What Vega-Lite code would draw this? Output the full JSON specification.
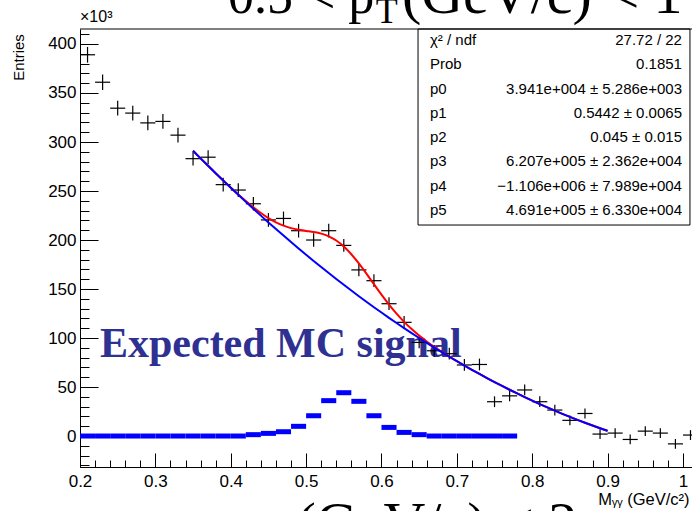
{
  "$schema": "https://vega.github.io/schema/vega-lite/v6.json",
  "width": 612,
  "height": 438,
  "autosize": "none",
  "padding": {"left": 80, "top": 29, "right": 0, "bottom": 44},
  "background": "white",
  "config": {
    "view": {"stroke": null},
    "font": "Liberation Sans",
    "axis": {"grid": false, "labelOverlap": false, "labelFlush": false, "domainColor": "#000", "domainWidth": 1, "tickColor": "#000", "tickWidth": 1, "labelColor": "#000", "labelFont": "Liberation Sans", "labelFontSize": 17, "titleFont": "Liberation Sans", "titleFontWeight": "normal", "titleColor": "#000"}
  },
  "datasets": {
    "hist": [
      {"x": 0.21, "lo": 0.20, "hi": 0.22, "y": 389, "elo": 381, "ehi": 397},
      {"x": 0.23, "lo": 0.22, "hi": 0.24, "y": 361, "elo": 353, "ehi": 369},
      {"x": 0.25, "lo": 0.24, "hi": 0.26, "y": 334.5, "elo": 327, "ehi": 342},
      {"x": 0.27, "lo": 0.26, "hi": 0.28, "y": 329.5, "elo": 322, "ehi": 337},
      {"x": 0.29, "lo": 0.28, "hi": 0.30, "y": 319.5, "elo": 312, "ehi": 327},
      {"x": 0.31, "lo": 0.30, "hi": 0.32, "y": 321, "elo": 313.5, "ehi": 328.5},
      {"x": 0.33, "lo": 0.32, "hi": 0.34, "y": 307, "elo": 299.5, "ehi": 314.5},
      {"x": 0.35, "lo": 0.34, "hi": 0.36, "y": 283, "elo": 276, "ehi": 290},
      {"x": 0.37, "lo": 0.36, "hi": 0.38, "y": 284.5, "elo": 277.5, "ehi": 291.5},
      {"x": 0.39, "lo": 0.38, "hi": 0.40, "y": 256.5, "elo": 249.5, "ehi": 263.5},
      {"x": 0.41, "lo": 0.40, "hi": 0.42, "y": 251, "elo": 244, "ehi": 258},
      {"x": 0.43, "lo": 0.42, "hi": 0.44, "y": 237, "elo": 230, "ehi": 244},
      {"x": 0.45, "lo": 0.44, "hi": 0.46, "y": 220.5, "elo": 213.5, "ehi": 227.5},
      {"x": 0.47, "lo": 0.46, "hi": 0.48, "y": 222, "elo": 215, "ehi": 229},
      {"x": 0.49, "lo": 0.48, "hi": 0.50, "y": 209.5, "elo": 202.5, "ehi": 216.5},
      {"x": 0.51, "lo": 0.50, "hi": 0.52, "y": 200, "elo": 193, "ehi": 207},
      {"x": 0.53, "lo": 0.52, "hi": 0.54, "y": 209.5, "elo": 202.5, "ehi": 216.5},
      {"x": 0.55, "lo": 0.54, "hi": 0.56, "y": 194.5, "elo": 188, "ehi": 201},
      {"x": 0.57, "lo": 0.56, "hi": 0.58, "y": 169.5, "elo": 163, "ehi": 176},
      {"x": 0.59, "lo": 0.58, "hi": 0.60, "y": 158.5, "elo": 152, "ehi": 165},
      {"x": 0.61, "lo": 0.60, "hi": 0.62, "y": 135, "elo": 128.5, "ehi": 141.5},
      {"x": 0.63, "lo": 0.62, "hi": 0.64, "y": 116, "elo": 109.5, "ehi": 122.5},
      {"x": 0.65, "lo": 0.64, "hi": 0.66, "y": 95.5, "elo": 89.5, "ehi": 101.5},
      {"x": 0.67, "lo": 0.66, "hi": 0.68, "y": 87, "elo": 81, "ehi": 93},
      {"x": 0.69, "lo": 0.68, "hi": 0.70, "y": 84, "elo": 78, "ehi": 90},
      {"x": 0.71, "lo": 0.70, "hi": 0.72, "y": 72.5, "elo": 66.5, "ehi": 78.5},
      {"x": 0.73, "lo": 0.72, "hi": 0.74, "y": 73, "elo": 67, "ehi": 79},
      {"x": 0.75, "lo": 0.74, "hi": 0.76, "y": 35, "elo": 29.5, "ehi": 40.5},
      {"x": 0.77, "lo": 0.76, "hi": 0.78, "y": 41, "elo": 35.5, "ehi": 46.5},
      {"x": 0.79, "lo": 0.78, "hi": 0.80, "y": 47, "elo": 41.5, "ehi": 52.5},
      {"x": 0.81, "lo": 0.80, "hi": 0.82, "y": 35, "elo": 29.5, "ehi": 40.5},
      {"x": 0.83, "lo": 0.82, "hi": 0.84, "y": 26.5, "elo": 21, "ehi": 32},
      {"x": 0.85, "lo": 0.84, "hi": 0.86, "y": 16, "elo": 11, "ehi": 21},
      {"x": 0.87, "lo": 0.86, "hi": 0.88, "y": 23, "elo": 18, "ehi": 28},
      {"x": 0.89, "lo": 0.88, "hi": 0.90, "y": 2, "elo": -3, "ehi": 7},
      {"x": 0.91, "lo": 0.90, "hi": 0.92, "y": 3, "elo": -2, "ehi": 8},
      {"x": 0.93, "lo": 0.92, "hi": 0.94, "y": -3.5, "elo": -8.5, "ehi": 1.5},
      {"x": 0.95, "lo": 0.94, "hi": 0.96, "y": 5, "elo": 0, "ehi": 10},
      {"x": 0.97, "lo": 0.96, "hi": 0.98, "y": 3, "elo": -2, "ehi": 8},
      {"x": 0.99, "lo": 0.98, "hi": 1.00, "y": -8, "elo": -13, "ehi": -3},
      {"x": 1.01, "lo": 1.00, "hi": 1.02, "y": 1, "elo": -4, "ehi": 6}
    ],
    "signal": [
      {"lo": 0.20, "hi": 0.22, "v": 0}, {"lo": 0.22, "hi": 0.24, "v": 0}, {"lo": 0.24, "hi": 0.26, "v": 0},
      {"lo": 0.26, "hi": 0.28, "v": 0}, {"lo": 0.28, "hi": 0.30, "v": 0}, {"lo": 0.30, "hi": 0.32, "v": 0},
      {"lo": 0.32, "hi": 0.34, "v": 0}, {"lo": 0.34, "hi": 0.36, "v": 0}, {"lo": 0.36, "hi": 0.38, "v": 0},
      {"lo": 0.38, "hi": 0.40, "v": 0}, {"lo": 0.40, "hi": 0.42, "v": 0}, {"lo": 0.42, "hi": 0.44, "v": 1.4},
      {"lo": 0.44, "hi": 0.46, "v": 2.7}, {"lo": 0.46, "hi": 0.48, "v": 4.4}, {"lo": 0.48, "hi": 0.50, "v": 9.9},
      {"lo": 0.50, "hi": 0.52, "v": 20.7}, {"lo": 0.52, "hi": 0.54, "v": 36.1}, {"lo": 0.54, "hi": 0.56, "v": 44.2},
      {"lo": 0.56, "hi": 0.58, "v": 35.4}, {"lo": 0.58, "hi": 0.60, "v": 20.7}, {"lo": 0.60, "hi": 0.62, "v": 8.8},
      {"lo": 0.62, "hi": 0.64, "v": 3.7}, {"lo": 0.64, "hi": 0.66, "v": 1.4}, {"lo": 0.66, "hi": 0.68, "v": 0},
      {"lo": 0.68, "hi": 0.70, "v": 0}, {"lo": 0.70, "hi": 0.72, "v": 0}, {"lo": 0.72, "hi": 0.74, "v": 0},
      {"lo": 0.74, "hi": 0.76, "v": 0}, {"lo": 0.76, "hi": 0.78, "v": 0}
    ],
    "fit": [
      {"x": 0.35, "total": 291.07, "bkg": 291.07}, {"x": 0.36, "total": 283.34, "bkg": 283.34},
      {"x": 0.37, "total": 275.72, "bkg": 275.70}, {"x": 0.38, "total": 268.21, "bkg": 268.16},
      {"x": 0.39, "total": 260.82, "bkg": 260.71}, {"x": 0.40, "total": 253.59, "bkg": 253.36},
      {"x": 0.41, "total": 246.56, "bkg": 246.10}, {"x": 0.42, "total": 239.80, "bkg": 238.93},
      {"x": 0.43, "total": 233.43, "bkg": 231.86}, {"x": 0.44, "total": 227.58, "bkg": 224.88},
      {"x": 0.45, "total": 222.40, "bkg": 217.99}, {"x": 0.46, "total": 218.05, "bkg": 211.20},
      {"x": 0.47, "total": 214.62, "bkg": 204.50}, {"x": 0.48, "total": 212.15, "bkg": 197.90},
      {"x": 0.49, "total": 210.47, "bkg": 191.39}, {"x": 0.50, "total": 209.30, "bkg": 184.98},
      {"x": 0.51, "total": 208.18, "bkg": 178.65}, {"x": 0.52, "total": 206.53, "bkg": 172.43},
      {"x": 0.53, "total": 203.79, "bkg": 166.29}, {"x": 0.54, "total": 199.49, "bkg": 160.25},
      {"x": 0.55, "total": 193.39, "bkg": 154.30}, {"x": 0.56, "total": 185.50, "bkg": 148.45},
      {"x": 0.57, "total": 176.13, "bkg": 142.69}, {"x": 0.58, "total": 165.74, "bkg": 137.03},
      {"x": 0.59, "total": 154.93, "bkg": 131.45}, {"x": 0.60, "total": 144.25, "bkg": 125.98},
      {"x": 0.61, "total": 134.12, "bkg": 120.59}, {"x": 0.62, "total": 124.84, "bkg": 115.30},
      {"x": 0.63, "total": 116.51, "bkg": 110.11}, {"x": 0.64, "total": 109.09, "bkg": 105.00},
      {"x": 0.65, "total": 102.48, "bkg": 100.00}, {"x": 0.66, "total": 96.52, "bkg": 95.08},
      {"x": 0.67, "total": 91.05, "bkg": 90.26}, {"x": 0.68, "total": 85.95, "bkg": 85.53},
      {"x": 0.69, "total": 81.11, "bkg": 80.90}, {"x": 0.70, "total": 76.46, "bkg": 76.36},
      {"x": 0.71, "total": 71.95, "bkg": 71.91}, {"x": 0.72, "total": 67.58, "bkg": 67.56},
      {"x": 0.73, "total": 63.30, "bkg": 63.30}, {"x": 0.74, "total": 59.14, "bkg": 59.14},
      {"x": 0.75, "total": 55.07, "bkg": 55.07}, {"x": 0.76, "total": 51.09, "bkg": 51.09},
      {"x": 0.77, "total": 47.21, "bkg": 47.21}, {"x": 0.78, "total": 43.42, "bkg": 43.42},
      {"x": 0.79, "total": 39.73, "bkg": 39.73}, {"x": 0.80, "total": 36.12, "bkg": 36.12},
      {"x": 0.81, "total": 32.62, "bkg": 32.62}, {"x": 0.82, "total": 29.20, "bkg": 29.20},
      {"x": 0.83, "total": 25.88, "bkg": 25.88}, {"x": 0.84, "total": 22.66, "bkg": 22.66},
      {"x": 0.85, "total": 19.53, "bkg": 19.53}, {"x": 0.86, "total": 16.49, "bkg": 16.49},
      {"x": 0.87, "total": 13.54, "bkg": 13.54}, {"x": 0.88, "total": 10.69, "bkg": 10.69},
      {"x": 0.89, "total": 7.93, "bkg": 7.93}, {"x": 0.90, "total": 5.27, "bkg": 5.27}
    ],
    "stats": [
      {"k": "χ² / ndf", "v": "27.72 / 22"},
      {"k": "Prob", "v": "0.1851"},
      {"k": "p0", "v": "3.941e+004 ± 5.286e+003"},
      {"k": "p1", "v": "0.5442 ± 0.0065"},
      {"k": "p2", "v": "0.045 ± 0.015"},
      {"k": "p3", "v": "6.207e+005 ± 2.362e+004"},
      {"k": "p4", "v": "−1.106e+006 ± 7.989e+004"},
      {"k": "p5", "v": "4.691e+005 ± 6.330e+004"}
    ]
  },
  "layer": [
    {
      "layer": [
        {
          "data": {"values": [{}]},
          "mark": {"type": "text", "font": "Liberation Serif", "fontWeight": "bold", "fontSize": 42, "color": "#2e3192", "align": "left", "baseline": "alphabetic"},
          "encoding": {"x": {"datum": 0.2265}, "y": {"datum": 80.6}, "text": {"value": "Expected MC signal"}}
        },
        {
          "data": {"values": [{}]},
          "mark": {"type": "text", "font": "Liberation Serif", "fontSize": 52, "color": "#000", "align": "left", "baseline": "alphabetic"},
          "encoding": {"x": {"datum": 0.3964}, "y": {"datum": 431.6}, "text": {"value": "0.5 < p"}}
        },
        {
          "data": {"values": [{}]},
          "mark": {"type": "text", "font": "Liberation Serif", "fontSize": 36, "color": "#000", "align": "left", "baseline": "alphabetic"},
          "encoding": {"x": {"datum": 0.5925}, "y": {"datum": 421.4}, "text": {"value": "T"}}
        },
        {
          "data": {"values": [{}]},
          "mark": {"type": "text", "font": "Liberation Serif", "fontSize": 58, "color": "#000", "align": "left", "baseline": "alphabetic"},
          "encoding": {"x": {"datum": 0.6271}, "y": {"datum": 431.6}, "text": {"value": "(GeV/c) < 1"}}
        },
        {
          "data": {"values": [{}]},
          "mark": {"type": "text", "font": "Liberation Serif", "fontSize": 58, "color": "#000", "align": "left", "baseline": "alphabetic"},
          "encoding": {"x": {"datum": 0.4872}, "y": {"datum": -108.5}, "text": {"value": "(GeV/c)  <  2"}}
        },
        {
          "data": {"values": [{}]},
          "mark": {"type": "text", "fontSize": 16, "color": "#000", "align": "left", "baseline": "alphabetic"},
          "encoding": {"x": {"datum": 0.2}, "y": {"datum": 422.4}, "text": {"value": "×10³"}}
        },
        {
          "data": {"name": "signal"},
          "mark": {"type": "rule", "color": "#0000ff", "strokeWidth": 5, "strokeCap": "butt"},
          "encoding": {
            "x": {"field": "lo", "type": "quantitative", "scale": {"domain": [0.2, 1.012], "nice": false, "zero": false},
              "title": "Mᵧᵧ (GeV/c²)",
              "axis": {
                "values": [0.2,0.22,0.24,0.26,0.28,0.3,0.32,0.34,0.36,0.38,0.4,0.42,0.44,0.46,0.48,0.5,0.52,0.54,0.56,0.58,0.6,0.62,0.64,0.66,0.68,0.7,0.72,0.74,0.76,0.78,0.8,0.82,0.84,0.86,0.88,0.9,0.92,0.94,0.96,0.98,1.0],
                "tickCount": 200,
                "labelExpr": "abs(datum.value*10-round(datum.value*10))<0.001 ? format(datum.value,'.1~f') : ''",
                "tickSize": {"condition": {"test": "abs(datum.value*10-round(datum.value*10))<0.001", "value": -14}, "value": -7},
                "labelPadding": 20,
                "titleFontSize": 16.5,
                "titleAnchor": null,
                "titleAlign": "right",
                "titleBaseline": "middle",
                "titleX": 609,
                "titleY": 32
              }},
            "x2": {"field": "hi"},
            "y": {"field": "v", "type": "quantitative", "scale": {"domain": [-31.6, 415.3], "nice": false, "zero": false},
              "title": "Entries",
              "axis": {
                "values": [-30,-20,-10,0,10,20,30,40,50,60,70,80,90,100,110,120,130,140,150,160,170,180,190,200,210,220,230,240,250,260,270,280,290,300,310,320,330,340,350,360,370,380,390,400,410],
                "tickCount": 200,
                "labelExpr": "datum.value % 50 === 0 ? format(datum.value,'d') : ''",
                "tickSize": {"condition": {"test": "datum.value % 50 === 0", "value": -18}, "value": -9},
                "labelPadding": 22,
                "titleFontSize": 15,
                "titleAngle": 270,
                "titleAnchor": null,
                "titleAlign": "center",
                "titleBaseline": "middle",
                "titleX": -62,
                "titleY": 28
              }}
          }
        },
        {
          "data": {"name": "hist"},
          "mark": {"type": "rule", "color": "#000", "strokeWidth": 1.2},
          "encoding": {"x": {"field": "lo", "type": "quantitative", "title": "Mᵧᵧ (GeV/c²)"}, "x2": {"field": "hi"}, "y": {"field": "y", "type": "quantitative", "title": "Entries"}}
        },
        {
          "data": {"name": "hist"},
          "mark": {"type": "rule", "color": "#000", "strokeWidth": 1.2},
          "encoding": {"x": {"field": "x", "type": "quantitative", "title": "Mᵧᵧ (GeV/c²)"}, "y": {"field": "elo", "type": "quantitative", "title": "Entries"}, "y2": {"field": "ehi"}}
        },
        {
          "data": {"name": "fit"},
          "mark": {"type": "line", "color": "#ff0000", "strokeWidth": 2, "interpolate": "monotone"},
          "encoding": {"x": {"field": "x", "type": "quantitative", "title": "Mᵧᵧ (GeV/c²)"}, "y": {"field": "total", "type": "quantitative", "title": "Entries"}}
        },
        {
          "data": {"name": "fit"},
          "mark": {"type": "line", "color": "#0000ff", "strokeWidth": 2, "interpolate": "monotone"},
          "encoding": {"x": {"field": "x", "type": "quantitative", "title": "Mᵧᵧ (GeV/c²)"}, "y": {"field": "bkg", "type": "quantitative", "title": "Entries"}}
        },
        {
          "data": {"values": [{}]},
          "mark": {"type": "rect", "fill": "#ffffff", "stroke": "#000", "strokeWidth": 1},
          "encoding": {"x": {"datum": 0.6485}, "x2": {"datum": 1.0093}, "y": {"datum": 415.3}, "y2": {"datum": 215.3}}
        },
        {
          "data": {"values": [{}]},
          "mark": {"type": "rule", "color": "#000", "strokeWidth": 1},
          "encoding": {"y": {"datum": 415.3}}
        }
      ]
    },
    {
      "data": {"name": "stats"},
      "layer": [
        {
          "mark": {"type": "text", "fontSize": 15, "color": "#000", "align": "left", "baseline": "middle"},
          "encoding": {
            "x": {"datum": 0.6643},
            "y": {"field": "k", "type": "ordinal", "sort": null, "scale": {"type": "point", "range": [11, 181], "padding": 0}, "axis": null},
            "text": {"field": "k"}
          }
        },
        {
          "mark": {"type": "text", "fontSize": 15, "color": "#000", "align": "right", "baseline": "middle"},
          "encoding": {
            "x": {"datum": 0.9987},
            "y": {"field": "k", "type": "ordinal", "sort": null, "scale": {"type": "point", "range": [11, 181], "padding": 0}, "axis": null},
            "text": {"field": "v"}
          }
        }
      ]
    }
  ],
  "resolve": {"scale": {"y": "independent"}}
}
